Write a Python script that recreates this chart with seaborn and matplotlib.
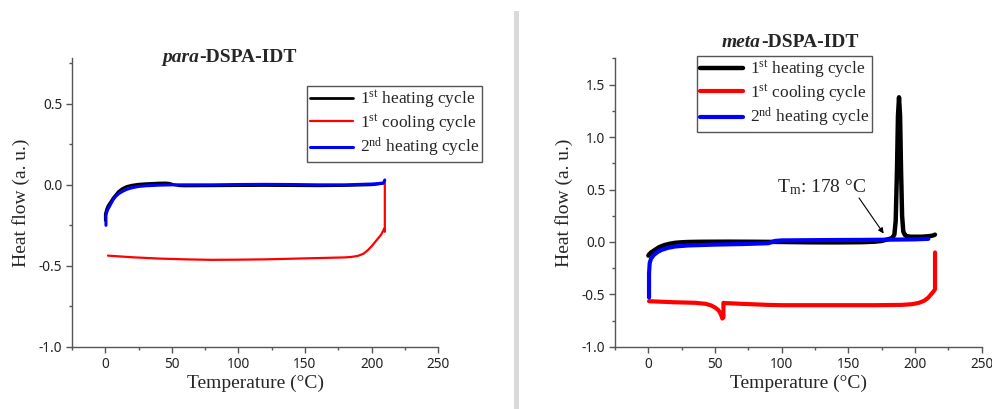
import numpy as np
import pandas as pd
import matplotlib
matplotlib.use("Agg")
import matplotlib.pyplot as plt
from matplotlib.patches import Rectangle
from matplotlib.ticker import MultipleLocator
import seaborn as sns

# ---------------- data ----------------
# para-DSPA-IDT
para_h1_T = [0, 0, 0.5, 1, 2, 4, 6, 8, 10, 13, 16, 20, 25, 30, 35, 40, 45, 48, 52, 56, 60, 80,
             100, 120, 140, 160, 180, 200, 205, 209]
para_h1_HF = [-0.22, -0.18, -0.165, -0.15, -0.13, -0.105, -0.08, -0.06, -0.04, -0.022, -0.01, -0.002,
              0.004, 0.007, 0.009, 0.011, 0.012, 0.01, 0.0, -0.006, -0.007, -0.006, -0.005, -0.004,
              -0.005, -0.006, -0.004, 0.0, 0.005, 0.01]
para_c1_T = [210, 210, 209.5, 209, 207, 205, 202, 200, 197, 194, 190, 185, 180, 160, 140, 120, 100,
             80, 60, 40, 20, 2]
para_c1_HF = [0.025, -0.29, -0.27, -0.28, -0.31, -0.33, -0.36, -0.38, -0.405, -0.425, -0.438,
              -0.445, -0.448, -0.452, -0.456, -0.46, -0.462, -0.463, -0.46, -0.455, -0.447, -0.437]
para_h2_T = [0.5, 0.5, 1, 2, 4, 6, 8, 10, 13, 16, 20, 25, 30, 40, 50, 60, 80, 100, 120, 140, 160,
             180, 200, 205, 209, 210]
para_h2_HF = [-0.25, -0.19, -0.17, -0.15, -0.12, -0.09, -0.07, -0.055, -0.04, -0.028, -0.018,
              -0.01, -0.006, -0.002, 0.0, 0.0, 0.0, 0.002, 0.003, 0.002, 0.0, 0.0, 0.005, 0.008,
              0.012, 0.03]

# meta-DSPA-IDT
meta_h1_T = [0, 0.5, 2, 5, 8, 12, 16, 20, 25, 30, 40, 60, 80, 100, 120, 140, 160, 170, 175, 178,
             181, 183, 184.5, 185.5, 186.5, 187.2, 188, 188.8, 189.5, 190.3, 191.2, 192.5, 194,
             197, 200, 205, 210, 213, 215]
meta_h1_HF = [-0.13, -0.12, -0.1, -0.075, -0.05, -0.03, -0.017, -0.008, -0.003, 0.0, 0.002, 0.003,
              0.002, 0.0, -0.003, -0.004, -0.002, 0.003, 0.01, 0.02, 0.03, 0.04, 0.07, 0.2, 0.7,
              1.2, 1.38, 1.2, 0.7, 0.25, 0.1, 0.065, 0.055, 0.05, 0.05, 0.05, 0.055, 0.06, 0.07]
meta_c1_T = [215, 215, 214, 212, 210, 207, 203, 198, 190, 170, 150, 120, 100, 90, 80, 70, 62, 57,
             56.3, 56.3, 55.5, 55, 54, 52.5, 50, 47, 43, 35, 20, 10, 0.5]
meta_c1_HF = [-0.1, -0.45, -0.47, -0.5, -0.53, -0.56, -0.58, -0.593, -0.6, -0.603, -0.603, -0.603,
              -0.603, -0.6, -0.595, -0.59, -0.585, -0.583, -0.58, -0.72, -0.73, -0.71, -0.68,
              -0.65, -0.625, -0.605, -0.59, -0.58, -0.575, -0.57, -0.565]
meta_h2_T = [0.5, 0.5, 1, 2, 4, 7, 10, 15, 20, 30, 50, 70, 90, 95, 100, 130, 160, 180, 200, 210]
meta_h2_HF = [-0.53, -0.3, -0.2, -0.16, -0.125, -0.095, -0.075, -0.055, -0.043, -0.033, -0.025,
              -0.02, -0.012, 0.01, 0.015, 0.018, 0.02, 0.022, 0.025, 0.03]

cycle_labels = [r"1$^{\mathrm{st}}$ heating cycle",
                r"1$^{\mathrm{st}}$ cooling cycle",
                r"2$^{\mathrm{nd}}$ heating cycle"]
cycle_colors = ["#000000", "#ff0000", "#0000ff"]

x_ticks = [0, 50, 100, 150, 200, 250]
para_y_ticks = [-1.0, -0.5, 0.0, 0.5]
meta_y_ticks = [-1.0, -0.5, 0.0, 0.5, 1.0, 1.5]

annot_text = r"T$_{\mathrm{m}}$: 178 °C"

# ---------------- style ----------------
sns.set_theme(style="ticks")
plt.rcParams["font.family"] = ["Liberation Serif", "DejaVu Serif"]
plt.rcParams["mathtext.fontset"] = "custom"
plt.rcParams["mathtext.rm"] = "Liberation Serif"
plt.rcParams["mathtext.it"] = "Liberation Serif:italic"
plt.rcParams["mathtext.bf"] = "Liberation Serif:bold"
plt.rcParams["axes.unicode_minus"] = False

fig = plt.figure(figsize=(9.92, 4.09), dpi=100)
ax1 = fig.add_axes([0.0726, 0.152, 0.369, 0.705])
ax2 = fig.add_axes([0.620, 0.152, 0.3696, 0.705])

# separator bar
fig.add_artist(Rectangle((0.5185, 0.0), 0.005, 0.972, transform=fig.transFigure,
                         facecolor="#d9d9d9", edgecolor="none"))


def draw(ax, series, lws):
    for (T, HF), lab, col, lw in zip(series, cycle_labels, cycle_colors, lws):
        df = pd.DataFrame({"T": T, "HF": HF})
        sns.lineplot(data=df, x="T", y="HF", ax=ax, sort=False, estimator=None,
                     color=col, lw=lw, label=lab, solid_capstyle="round",
                     solid_joinstyle="round")


draw(ax1, [(para_h1_T, para_h1_HF), (para_c1_T, para_c1_HF), (para_h2_T, para_h2_HF)],
     [2.0, 1.6, 2.2])
draw(ax2, [(meta_h1_T, meta_h1_HF), (meta_c1_T, meta_c1_HF), (meta_h2_T, meta_h2_HF)],
     [3.2, 3.0, 3.0])

for ax, yl, yt in [(ax1, (-1.0, 0.78), para_y_ticks), (ax2, (-1.0, 1.75), meta_y_ticks)]:
    ax.set_xlim(-25, 250)
    ax.set_ylim(*yl)
    ax.set_xticks(x_ticks)
    ax.set_yticks(yt)
    ax.xaxis.set_minor_locator(MultipleLocator(25))
    ax.yaxis.set_minor_locator(MultipleLocator(0.25))
    ax.set_yticklabels([f"{v:.1f}" for v in yt])
    for s in ["top", "right"]:
        ax.spines[s].set_visible(False)
    for s in ["left", "bottom"]:
        ax.spines[s].set_color("#555555")
        ax.spines[s].set_linewidth(1.0)
    ax.tick_params(which="major", direction="out", length=4, width=1, color="#555555",
                   labelsize=9.8, labelcolor="#222222", pad=3)
    ax.tick_params(which="minor", direction="out", length=2.5, width=1, color="#555555")
    for lbl in ax.get_xticklabels() + ax.get_yticklabels():
        lbl.set_fontfamily("Noto Sans")
    ax.set_xlabel("Temperature (°C)", fontsize=14, labelpad=2)
    ax.set_ylabel("Heat flow (a. u.)", fontsize=14, labelpad=6)
    ax.set_facecolor("white")

leg_kw = dict(loc="upper left", fontsize=12.5, frameon=True, fancybox=False,
              edgecolor="#555555", framealpha=1, handlelength=2.5, handletextpad=0.4,
              labelspacing=0.12, borderpad=0.15, borderaxespad=0)
leg1 = ax1.legend(bbox_to_anchor=(0.642, 0.904), **leg_kw)
leg2 = ax2.legend(bbox_to_anchor=(0.224, 1.008), **leg_kw)
for leg in (leg1, leg2):
    leg.get_frame().set_linewidth(1.0)

# titles (italic prefix + bold rest)
ax1.text(0.347, 1.003, "para", transform=ax1.transAxes, ha="right", va="center",
         fontsize=14, fontweight="bold", fontstyle="italic")
ax1.text(0.347, 1.003, "-DSPA-IDT", transform=ax1.transAxes, ha="left", va="center",
         fontsize=14, fontweight="bold")
ax2.text(0.398, 1.055, "meta", transform=ax2.transAxes, ha="right", va="center",
         fontsize=14, fontweight="bold", fontstyle="italic", clip_on=False)
ax2.text(0.398, 1.055, "-DSPA-IDT", transform=ax2.transAxes, ha="left", va="center",
         fontsize=14, fontweight="bold", clip_on=False)

# annotation
ax2.text(130, 0.52, annot_text, ha="center", va="center", fontsize=14)
ax2.annotate("", xy=(176.5, 0.08), xytext=(158, 0.42),
             arrowprops=dict(arrowstyle="-|>", color="black", lw=0.8,
                             mutation_scale=8, shrinkA=0, shrinkB=0))

fig.savefig("out.png", dpi=100, facecolor="white")
